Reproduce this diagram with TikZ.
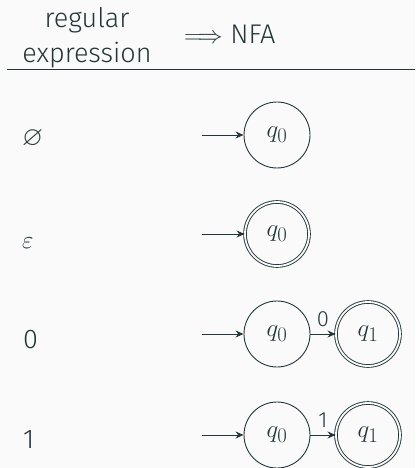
\documentclass[tikz,border=0pt]{standalone}
\usepackage{amssymb}
\usepackage{fontspec}
\setmainfont{Fira Sans}[UprightFont={* Light}]
\usetikzlibrary{arrows.meta}
\definecolor{fg}{HTML}{23373B}
\definecolor{bg}{HTML}{FAFAFA}
\tikzset{
  txt/.style={text=fg, inner sep=0pt, font=\fontsize{27}{32}\selectfont},
  rowlabel/.style={txt, anchor=base west},
  state/.style={circle, draw=fg, line width=0.9pt, minimum size=66pt, inner sep=0pt, text=fg, font=\fontsize{28}{32}\selectfont},
  accepting/.style={double=bg, double distance=1.8pt, minimum size=64pt},
  conn/.style={draw=fg, line width=0.9pt, -{Stealth[length=8pt,width=7pt]}},
  elabel/.style={txt, font=\fontsize{22}{26}\selectfont, above=7pt},
}
\begin{document}
\begin{tikzpicture}[x=1pt,y=-1pt]
\fill[bg] (0,0) rectangle (415,468);
\useasboundingbox (0,0) rectangle (415,468);
% header
\node[txt, anchor=base] (h1) at (87,28) {regular};
\node[txt, anchor=base] (h2) at (87,63) {expression};
\node[txt, anchor=base west] (h3) at (184,44) {$\Longrightarrow$ NFA};
\draw[fg, line width=0.9pt] (7,69) -- (415,69);
% row labels
\node[rowlabel] (r1) at (22,146) {$\varnothing$};
\node[rowlabel] (r2) at (22,248) {$\varepsilon$};
\node[rowlabel] (r3) at (23,348) {0};
\node[rowlabel] (r4) at (23,448) {1};
% states
\node[state] (a0) at (277,135) {$q_0$};
\node[state, accepting] (b0) at (277,234) {$q_0$};
\node[state] (c0) at (277,334) {$q_0$};
\node[state, accepting] (c1) at (368,334) {$q_1$};
\node[state] (d0) at (277,435) {$q_0$};
\node[state, accepting] (d1) at (368,435) {$q_1$};
% start coordinates
\coordinate (sa) at (202,135);
\coordinate (sb) at (202,234);
\coordinate (sc) at (202,334);
\coordinate (sd) at (202,435);
\draw[conn] (sa) -- (a0);
\draw[conn] (sb) -- (b0);
\draw[conn] (sc) -- (c0);
\draw[conn] (sd) -- (d0);
\draw[conn] (c0) -- node[elabel] {0} (c1);
\draw[conn] (d0) -- node[elabel] {1} (d1);
\end{tikzpicture}
\end{document}
